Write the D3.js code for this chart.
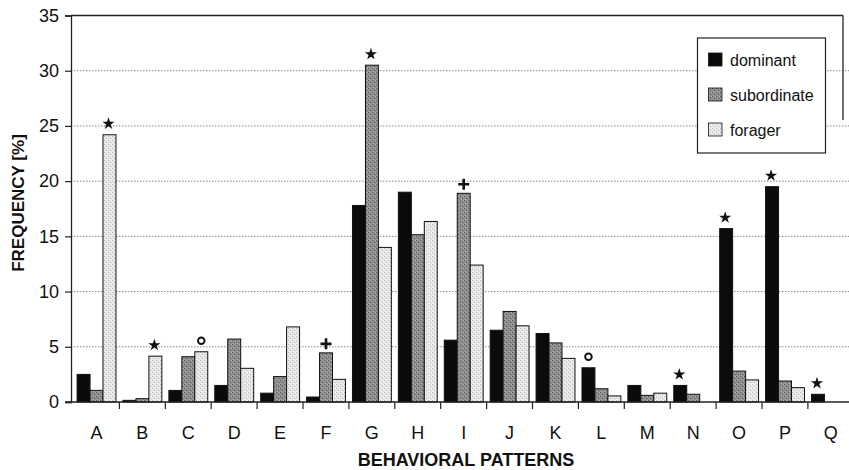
<!DOCTYPE html>
<html>
<head>
<meta charset="utf-8">
<script src="https://cdn.jsdelivr.net/npm/d3@7"></script>
<style>
  html, body { margin: 0; padding: 0; background: #fff; }
  svg { display: block; font-family: "Liberation Sans", Arial, sans-serif; }
</style>
</head>
<body>
<svg id="chart" width="849" height="470"></svg>
<script>
// ---- data ----
const categories = ["A","B","C","D","E","F","G","H","I","J","K","L","M","N","O","P","Q"];
const seriesNames = ["dominant","subordinate","forager"];
const dominant    = [2.5, 0.15, 1.05, 1.5, 0.8, 0.45, 17.8, 19.0, 5.6, 6.5, 6.2, 3.1, 1.5, 1.5, 15.7, 19.5, 0.7];
const subordinate = [1.05, 0.3, 4.1, 5.7, 2.3, 4.45, 30.5, 15.15, 18.9, 8.2, 5.35, 1.2, 0.6, 0.7, 2.8, 1.9, 0];
const forager     = [24.2, 4.15, 4.55, 3.05, 6.8, 2.05, 14.0, 16.35, 12.4, 6.9, 3.95, 0.55, 0.8, 0, 2.0, 1.3, 0];
const yTicks = [0, 5, 10, 15, 20, 25, 30, 35];
// significance marks: category, series, symbol
const markCats    = ["A","B","C","F","G","I","L","N","O","P","Q"];
const markSeries  = ["forager","forager","forager","subordinate","subordinate","subordinate","dominant","dominant","dominant","dominant","dominant"];
const markSymbols = ["star","star","circle","plus","star","plus","circle","star","star","star","star"];

const seriesValues = { dominant, subordinate, forager };

// ---- layout ----
const svg = d3.select("#chart");
const axisX = 71;
const x = d3.scaleBand().domain(categories).range([73.5, 853.8]).padding(0);
const bw = x.bandwidth();
const xs = d3.scaleBand().domain(seriesNames).range([bw * 0.078, bw * 0.925]).padding(0);
const y = d3.scaleLinear().domain([0, 35]).range([402, 15.5]);

// patterns for stippled fills
const defs = svg.append("defs");
function stipple(id, base, dot, dot2) {
  const p = defs.append("pattern").attr("id", id).attr("patternUnits", "userSpaceOnUse")
    .attr("width", 4).attr("height", 4);
  p.append("rect").attr("width", 4).attr("height", 4).attr("fill", base);
  p.append("rect").attr("x", 0).attr("y", 0).attr("width", 1).attr("height", 1).attr("fill", dot);
  p.append("rect").attr("x", 2).attr("y", 2).attr("width", 1).attr("height", 1).attr("fill", dot);
  p.append("rect").attr("x", 3).attr("y", 0).attr("width", 1).attr("height", 1).attr("fill", dot2);
  p.append("rect").attr("x", 1).attr("y", 3).attr("width", 1).attr("height", 1).attr("fill", dot2);
}
stipple("patSub", "#8e8e8e", "#5e5e5e", "#b0b0b0");
stipple("patFor", "#e6e6e6", "#bdbdbd", "#f6f6f6");
const fills = { dominant: "#0b0b0b", subordinate: "url(#patSub)", forager: "url(#patFor)" };

// gridlines (dotted)
svg.append("g").selectAll("line").data(yTicks.filter(t => t > 0 && t < 35)).join("line")
  .attr("x1", axisX).attr("x2", 849)
  .attr("y1", d => y(d)).attr("y2", d => y(d))
  .attr("stroke", "#888").attr("stroke-width", 1).attr("stroke-dasharray", "1.5,1.5");

// top frame line and partial right border
svg.append("line").attr("x1", axisX).attr("x2", 843).attr("y1", y(35)).attr("y2", y(35))
  .attr("stroke", "#222").attr("stroke-width", 1.3);
svg.append("line").attr("x1", 843).attr("x2", 843).attr("y1", y(35)).attr("y2", 120)
  .attr("stroke", "#222").attr("stroke-width", 1.3);

// bars
const rows = [];
categories.forEach((c, i) => seriesNames.forEach(s => rows.push({ c, s, v: seriesValues[s][i] })));
svg.append("g").selectAll("rect").data(rows.filter(d => d.v > 0)).join("rect")
  .attr("x", d => x(d.c) + xs(d.s))
  .attr("width", xs.bandwidth())
  .attr("y", d => y(d.v))
  .attr("height", d => y(0) - y(d.v))
  .attr("fill", d => fills[d.s])
  .attr("stroke", "#111").attr("stroke-width", 1);

// y axis
const yAxis = svg.append("g").attr("transform", `translate(${axisX},0)`)
  .call(d3.axisLeft(y).tickValues(yTicks).tickSize(6).tickPadding(6).tickFormat(d3.format("d")));
yAxis.select(".domain").attr("stroke", "#222").attr("stroke-width", 1.3);
yAxis.selectAll(".tick line").attr("stroke", "#222").attr("stroke-width", 1.2);
yAxis.selectAll(".tick text").attr("font-size", 18).attr("fill", "#111")
  .attr("font-family", "'Liberation Sans', Arial, sans-serif");

// x axis (ticks at category boundaries)
const xAxisG = svg.append("g").attr("transform", `translate(0,${y(0)})`);
xAxisG.append("line").attr("x1", axisX - 6).attr("x2", 849).attr("y1", 0).attr("y2", 0)
  .attr("stroke", "#222").attr("stroke-width", 1.3);
xAxisG.selectAll("line.tk").data(categories.map((c, i) => i + 1)).join("line")
  .attr("class", "tk")
  .attr("x1", i => x.range()[0] + i * bw).attr("x2", i => x.range()[0] + i * bw)
  .attr("y1", 0).attr("y2", 7).attr("stroke", "#222").attr("stroke-width", 1.2);
xAxisG.selectAll("text").data(categories).join("text")
  .attr("x", d => x(d) + bw / 2).attr("y", 37)
  .attr("text-anchor", "middle").attr("font-size", 18).attr("fill", "#111")
  .text(d => d);

// significance marks
const marks = markCats.map((c, i) => ({ c, s: markSeries[i], sym: markSymbols[i] }));
const mg = svg.append("g");
marks.forEach(m => {
  const i = categories.indexOf(m.c);
  const v = seriesValues[m.s][i];
  const cx = x(m.c) + xs(m.s) + xs.bandwidth() / 2;
  const top = y(v);
  if (m.sym === "star") {
    mg.append("path").attr("d", d3.symbol(d3.symbolStar, 46)())
      .attr("transform", `translate(${cx - 1},${top - 11})`).attr("fill", "#111");
  } else if (m.sym === "circle") {
    mg.append("circle").attr("cx", cx).attr("cy", top - 11).attr("r", 3.3)
      .attr("fill", "none").attr("stroke", "#111").attr("stroke-width", 1.9);
  } else {
    mg.append("path").attr("d", `M${cx - 5.5},${top - 9}H${cx + 5.5}M${cx},${top - 14.5}V${top - 3.5}`)
      .attr("stroke", "#111").attr("stroke-width", 2.6).attr("fill", "none");
  }
});

// legend
const lg = svg.append("g");
lg.append("rect").attr("x", 697.5).attr("y", 38).attr("width", 128).attr("height", 115)
  .attr("fill", "#fff").attr("stroke", "#222").attr("stroke-width", 1.2);
seriesNames.forEach((s, i) => {
  const yy = 53 + i * 35;
  lg.append("rect").attr("x", 708.5).attr("y", yy).attr("width", 13.5).attr("height", 13)
    .attr("fill", fills[s]).attr("stroke", "#111").attr("stroke-width", 0.8);
  lg.append("text").attr("x", 730).attr("y", yy + 12.5).attr("font-size", 16).attr("fill", "#111").text(s);
});

// axis titles
svg.append("text").attr("transform", "translate(24,203) rotate(-90)")
  .attr("text-anchor", "middle").attr("font-size", 17).attr("font-weight", "bold").attr("fill", "#111")
  .text("FREQUENCY [%]");
svg.append("text").attr("x", 466).attr("y", 466)
  .attr("text-anchor", "middle").attr("font-size", 18).attr("font-weight", "bold").attr("fill", "#111")
  .text("BEHAVIORAL PATTERNS");
</script>
</body>
</html>
